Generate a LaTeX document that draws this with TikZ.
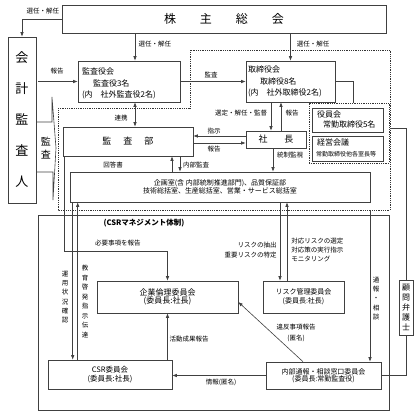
\documentclass[tikz,border=0pt]{standalone}
\usepackage{fontspec}
\setmainfont{Noto Sans CJK JP}
\usetikzlibrary{arrows.meta}
\usetikzlibrary{calc}
\usetikzlibrary{positioning}

\begin{document}
\begin{tikzpicture}[
    x=1pt, y=-1pt,
    >={Latex[length=4.5pt,width=3.5pt]},
    line width=0.6pt,
    box/.style={draw=black!75, inner sep=0pt, align=center},
    txt/.style={inner sep=0pt, font=\fontsize{8}{11.5}\selectfont},
    lbl/.style={inner sep=0pt, align=center, font=\fontsize{6.5}{8}\selectfont},
    conn/.style={draw=black!75},
    frame/.style={draw=black!80, densely dotted, line width=0.8pt}
]
    \useasboundingbox (0,0) rectangle (416,415);

    % company frame (dotted)
    \draw[frame] (58,108) -- (190,108) -- (190,50) -- (390,50) -- (390,210) -- (58,210) -- cycle;
    \coordinate (co_right) at (390,128);
    \coordinate (co_bottom) at (370,210);

    % top: shareholders and auditors
    \node[box, minimum width=324pt, minimum height=28pt, font=\fontsize{12}{14}\selectfont] (kabunushi) at (224,19)
        {株\hspace{24pt}主\hspace{24pt}総\hspace{24pt}会};
    \node[box, minimum width=28pt, minimum height=166pt, font=\fontsize{13}{31}\selectfont] (kaikei) at (22,120)
        {会\\計\\監\\査\\人};

    \node[box, minimum width=102pt, minimum height=41pt] (kansayaku) at (129,81.5) {};
    \node[txt, anchor=north west, align=left] (kansayaku_t) at ([shift={(4,7)}]kansayaku.north west)
        {監査役会\\\hspace*{11pt}監査役3名\\(内　社外監査役2名)};

    \node[box, minimum width=89pt, minimum height=41pt] (torishimari) at (290.5,81.5) {};
    \node[txt, anchor=north west, align=left] (torishimari_t) at ([shift={(2,5)}]torishimari.north west)
        {取締役会\\\hspace*{12pt}取締役8名\\(内　社外取締役2名)};

    % board group (dotted)
    \node[frame, minimum width=80pt, minimum height=60pt, inner sep=0pt] (yakuin_grp) at (349,133) {};
    \node[box, minimum width=71pt, minimum height=24pt] (yakuin) at (347.5,120) {};
    \node[txt, anchor=north west, align=left, font=\fontsize{8}{10}\selectfont] (yakuin_t) at ([shift={(5,3)}]yakuin.north west)
        {役員会\\\hspace*{6pt}常勤取締役5名};
    \node[box, minimum width=71pt, minimum height=25pt] (keiei) at (347.5,148.5) {};
    \node[txt, anchor=north west, align=left] (keiei_t) at ([shift={(5,3)}]keiei.north west)
        {経営会議\\[-1pt]{\fontsize{6}{7}\selectfont\hspace*{-1pt}常勤取締役他各室長等}};

    % audit wedge
    \draw[conn] (37,122) -- (52,122) -- (52,97) -- (56,148) -- (53,200) -- (53,172) -- (37,172);
    \node[txt, align=center, font=\fontsize{10}{13}\selectfont] (kansa_w) at (46,148.5) {監\\査};

    % company
    \node[box, minimum width=130pt, minimum height=29pt, font=\fontsize{9}{11}\selectfont] (kansabu) at (128,141.5)
        {監\hspace{12pt}査\hspace{12pt}部};
    \node[box, minimum width=60pt, minimum height=17pt, font=\fontsize{9}{11}\selectfont] (shacho) at (276,139.5)
        {社\hspace{17pt}長};
    \node[box, minimum width=300pt, minimum height=30pt, font=\fontsize{7}{7.5}\selectfont] (kikaku) at (220,187)
        {企画室(含 内部統制推進部門)、品質保証部\\技術総括室、生産総括室、営業・サービス総括室};

    % CSR management
    \node[box, minimum width=351pt, minimum height=195pt] (csr_grp) at (213.5,312.5) {};
    \node[txt, font=\bfseries\fontsize{7.5}{9}\selectfont] (csr_title) at (144,223) {(CSRマネジメント体制)};
    \node[box, minimum width=141pt, minimum height=32pt, font=\fontsize{8}{8}\selectfont] (rinri) at (167.5,297)
        {企業倫理委員会\\(委員長:社長)};
    \node[box, minimum width=81pt, minimum height=32pt, font=\fontsize{7}{9}\selectfont] (risk) at (303.5,297)
        {リスク管理委員会\\(委員長:社長)};
    \node[box, minimum width=124pt, minimum height=29pt, font=\fontsize{7.5}{9}\selectfont] (csr_iinkai) at (110,374.5)
        {CSR委員会\\(委員長:社長)};
    \node[box, minimum width=115pt, minimum height=27pt, font=\fontsize{7}{7.5}\selectfont] (tsuho) at (323.5,375.5)
        {内部通報・相談窓口委員会\\(委員長:常勤監査役)};
    \node[box, minimum width=14pt, minimum height=55pt, font=\fontsize{8}{10}\selectfont] (komon) at (406,307.5)
        {顧\\問\\弁\\護\\士};

    % connectors
    \coordinate (kansa_top) at ([xshift=6pt]kansayaku.north);
    \coordinate (renkei) at ([xshift=7pt]kansabu.north);
    \coordinate (grp_in) at ([xshift=4pt]yakuin_grp.north);
    \coordinate (sentei) at ([xshift=-5pt]shacho.north);
    \coordinate (hokoku_up) at ([xshift=5pt]shacho.north);
    \coordinate (shiji) at ([yshift=3.5pt]shacho.west);
    \coordinate (hokoku_in) at ([yshift=-3.5pt]shacho.west);
    \coordinate (tosei) at ([xshift=-3pt]shacho.south);
    \coordinate (kaito) at ([xshift=44pt]kansabu.south);
    \coordinate (naibu) at ([xshift=52pt]kansabu.south);
    \coordinate (hitsuyo) at ([xshift=2pt]kansabu.south west);
    \coordinate (unyo) at ([xshift=3pt]kikaku.south west);
    \coordinate (kyoiku) at ([xshift=8pt]kikaku.south west);
    \coordinate (risk_dn) at ([xshift=60pt]kikaku.south);
    \coordinate (risk_up) at ([xshift=67pt]kikaku.south);
    \coordinate (ihan) at ([xshift=-20.5pt]tsuho.north);
    \coordinate (ihan_in) at ([yshift=-5pt]rinri.east);

    \draw[conn, ->] (kabunushi.west) -| (kaikei.north);
    \draw[conn, ->] (kansa_top |- kabunushi.south) -- (kansa_top);
    \draw[conn, ->] (kabunushi.south -| torishimari.north) -- (torishimari.north);
    \draw[conn, ->, shorten <=2pt] (kaikei.east |- kansayaku.west) -- (kansayaku.west);
    \draw[conn, ->] (kansayaku.east) -- (torishimari.west);
    \draw[conn, <->] (kansayaku.south -| renkei) -- (renkei);
    \draw[conn] (torishimari.east) -| (grp_in);
    \draw[conn, ->] (sentei |- torishimari.south) -- (sentei);
    \draw[conn, ->] (hokoku_up) -- (hokoku_up |- torishimari.south);
    \draw[conn, ->] (shiji) -- (shiji -| kansabu.east);
    \draw[conn, ->] (hokoku_in -| kansabu.east) -- (hokoku_in);
    \draw[conn, ->] (tosei) -- (tosei |- kikaku.north);
    \draw[conn, ->] (kaito |- kikaku.north) -- (kaito);
    \draw[conn, ->] (naibu) -- (naibu |- kikaku.north);
    \draw[conn, ->] (hitsuyo) -- ++(0,95) -| (rinri.north);
    \draw[conn, ->] (unyo) -- (unyo |- csr_iinkai.north);
    \draw[conn, ->] (kyoiku |- csr_iinkai.north) -- (kyoiku);
    \draw[conn, ->] (risk_dn) -- (risk_dn |- risk.north);
    \draw[conn, ->] (risk_up |- risk.north) -- (risk_up);
    \draw[conn, ->] (co_bottom) -- (co_bottom |- tsuho.north);
    \draw[conn, ->] (ihan) -- (ihan_in);
    \draw[conn, ->] (rinri.south |- csr_iinkai.north) -- (rinri.south);
    \draw[conn, ->] (tsuho.west) -- (tsuho.west -| csr_iinkai.east);
    \draw[conn] (tsuho.east) -| (komon.south);
    \draw[conn] (co_right) -| (komon.north);

    % labels
    \node[lbl] (l_sennin1) at (43,11) {選任・解任};
    \node[lbl] (l_sennin2) at (155,44) {選任・解任};
    \node[lbl] (l_sennin3) at (313,44) {選任・解任};
    \node[lbl] (l_hokoku1) at (57,71) {報告};
    \node[lbl] (l_kansa) at (211,75) {監査};
    \node[lbl] (l_renkei) at (121,118) {連携};
    \node[lbl] (l_sentei) at (241,113) {選定・解任・監督};
    \node[lbl] (l_hokoku2) at (292,113) {報告};
    \node[lbl] (l_shiji) at (214,131) {指示};
    \node[lbl] (l_hokoku3) at (214,149) {報告};
    \node[lbl] (l_tosei) at (290,155) {統制監視};
    \node[lbl] (l_kaito) at (113,165) {回答書};
    \node[lbl] (l_naibu) at (196,165) {内部監査};
    \node[lbl] (l_hitsuyo) at (118,243) {必要事項を報告};
    \node[lbl, font=\fontsize{6.5}{9.2}\selectfont] (l_unyo) at (65,297) {運\\用\\状\\況\\確\\認};
    \node[lbl, font=\fontsize{6.5}{9.5}\selectfont] (l_kyoiku) at (85,301.5) {教\\育\\啓\\発\\指\\示\\伝\\達};
    \node[lbl, anchor=east, align=right, font=\fontsize{6.5}{10}\selectfont] (l_risk1) at (277,250)
        {リスクの抽出\\重要リスクの特定};
    \node[lbl, anchor=west, align=left, font=\fontsize{6.5}{9}\selectfont] (l_risk2) at (291,250)
        {対応リスクの選定\\対応策の実行指示\\モニタリング};
    \node[lbl, font=\fontsize{6.5}{9.3}\selectfont] (l_tsuho) at (376,298.5) {通\\報\\・\\相\\談};
    \node[lbl, font=\fontsize{6.5}{11}\selectfont] (l_ihan) at (296,332.5) {違反事項報告\\(匿名)};
    \node[lbl] (l_katsudo) at (189,339) {活動成果報告};
    \node[lbl] (l_joho) at (221,382) {情報(匿名)};
\end{tikzpicture}
\end{document}
